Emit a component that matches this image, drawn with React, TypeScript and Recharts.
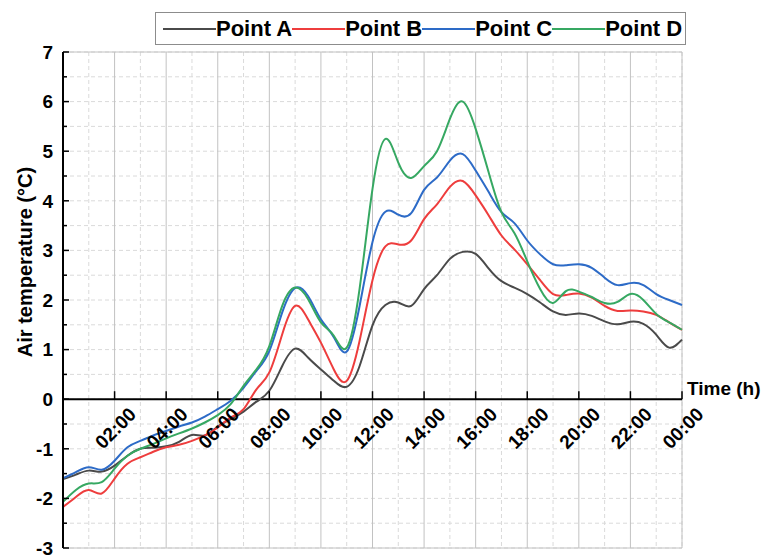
import { CartesianGrid, Legend, Line, LineChart, ReferenceLine, XAxis, YAxis } from "recharts";

// readings every half hour over one day
const HOURS = [
  0, 0.5, 1, 1.5, 2, 2.5, 3, 3.5, 4, 4.5, 5, 5.5, 6, 6.5, 7, 7.5, 8, 8.5, 9, 9.5, 10, 10.5, 11, 11.5, 12,
  12.5, 13, 13.5, 14, 14.5, 15, 15.5, 16, 16.5, 17, 17.5, 18, 18.5, 19, 19.5, 20, 20.5, 21, 21.5, 22, 22.5,
  23, 23.5, 24,
];

const POINT_A = [
  -1.61, -1.52, -1.44, -1.46, -1.34, -1.14, -1.0, -0.98, -0.95, -0.86, -0.72, -0.73, -0.55, -0.4, -0.25,
  -0.05, 0.17, 0.67, 1.02, 0.84, 0.6, 0.37, 0.25, 0.67, 1.49, 1.9, 1.95, 1.88, 2.22, 2.5, 2.83, 2.97, 2.93,
  2.64, 2.38, 2.25, 2.12, 1.95, 1.77, 1.7, 1.73, 1.68, 1.57, 1.51, 1.56, 1.52, 1.3, 1.04, 1.2,
];
const POINT_B = [
  -2.17, -1.97, -1.83, -1.9, -1.6, -1.3, -1.17, -1.06, -0.97, -0.92, -0.84, -0.73, -0.57, -0.37, -0.2, 0.2,
  0.54, 1.31, 1.88, 1.61, 1.14, 0.6, 0.37, 1.18, 2.4, 3.08, 3.12, 3.2, 3.63, 3.93, 4.28, 4.4, 4.11, 3.71,
  3.3, 3.02, 2.72, 2.4, 2.12, 2.1, 2.13, 2.05, 1.88, 1.78, 1.79, 1.77, 1.7, 1.55, 1.4,
];
const POINT_C = [
  -1.59, -1.47, -1.37, -1.42, -1.24, -0.97, -0.84, -0.73, -0.64, -0.55, -0.47, -0.35, -0.2, -0.03, 0.23,
  0.57, 0.97, 1.75, 2.24, 2.08, 1.61, 1.25, 0.96, 1.88, 3.17, 3.78, 3.72, 3.75, 4.22, 4.47, 4.81, 4.94, 4.61,
  4.18, 3.77, 3.55, 3.2, 2.92, 2.72, 2.7, 2.72, 2.65, 2.45, 2.3, 2.34, 2.3, 2.12, 2.0, 1.9,
];
const POINT_D = [
  -2.07, -1.83, -1.7, -1.67, -1.4, -1.14, -1.0, -0.9, -0.79, -0.69, -0.59, -0.47, -0.32, -0.1, 0.27, 0.6,
  1.07, 1.88, 2.25, 2.02, 1.55, 1.28, 1.04, 2.23, 4.24, 5.25, 4.77, 4.46, 4.7, 5.0, 5.65, 6.0, 5.45, 4.58,
  3.77, 3.35, 2.78, 2.22, 1.94, 2.18, 2.17, 2.06, 1.94, 1.96, 2.12, 2.0, 1.72, 1.55, 1.4,
];

const SERIES_NAMES = ["Point A", "Point B", "Point C", "Point D"];
const SERIES_COLORS = ["#4a4a4a", "#ee3d3d", "#2d6bc7", "#36a862"];

const X_TICKS = [2, 4, 6, 8, 10, 12, 14, 16, 18, 20, 22, 24];
const X_LABELS = ["02:00", "04:00", "06:00", "08:00", "10:00", "12:00", "14:00", "16:00", "18:00", "20:00", "22:00", "00:00"];
const X_MINOR = [1, 3, 5, 7, 9, 11, 13, 15, 17, 19, 21, 23];
const Y_MAJOR = [-3, -2, -1, 0, 1, 2, 3, 4, 5, 6, 7];
const Y_ALL = [-3, -2.5, -2, -1.5, -1, -0.5, 0, 0.5, 1, 1.5, 2, 2.5, 3, 3.5, 4, 4.5, 5, 5.5, 6, 6.5, 7];

const data = HOURS.map((h, i) => ({
  h,
  a: POINT_A[i],
  b: POINT_B[i],
  c: POINT_C[i],
  d: POINT_D[i],
}));

const W = 768;
const H = 556;
const LEGEND_H = 33;
const MARGIN = { top: 52 - LEGEND_H, right: 86, bottom: 7, left: 0 };
const PLOT_H = H - 52 - 8;
const Y_MIN = -3;
const Y_MAX = 7;
const FONT = '"Liberation Sans", Arial, sans-serif';

// x labels hang off the zero line, not the bottom of the plot
function XTick(props: any) {
  const { x, y, payload } = props;
  const y0 = y - (PLOT_H * (0 - Y_MIN)) / (Y_MAX - Y_MIN);
  const idx = X_TICKS.indexOf(payload.value);
  const cx = x + 1;
  const cy = y0 + 29;
  return (
    <g>
      <line x1={x} x2={x} y1={y0} y2={y0 - 8} stroke="#000" strokeWidth={1.5} />
      <text
        x={cx}
        y={cy}
        textAnchor="middle"
        dominantBaseline="central"
        transform={`rotate(-45, ${cx}, ${cy})`}
        fontFamily={FONT}
        fontWeight="bold"
        fontSize={19}
        fill="#000"
      >
        {X_LABELS[idx]}
      </text>
    </g>
  );
}

function YTick(props: any) {
  const { x, y, payload } = props;
  const major = Number.isInteger(payload.value);
  const ax = x + 10;
  return (
    <g>
      <line x1={ax} x2={ax + (major ? 6 : 4)} y1={y} y2={y} stroke="#000" strokeWidth={1.5} />
      {major && (
        <text x={x} y={y} dy="0.36em" textAnchor="end" fontFamily={FONT} fontWeight="bold" fontSize={19} fill="#000">
          {payload.value}
        </text>
      )}
    </g>
  );
}

function LegendBox(props: any) {
  const items = (props.payload || []).slice().sort((p: any, q: any) => SERIES_NAMES.indexOf(p.value) - SERIES_NAMES.indexOf(q.value));
  return (
    <div
      style={{
        display: "flex",
        alignItems: "center",
        height: LEGEND_H - 2,
        border: "1px solid #8c8c8c",
        background: "#fff",
        padding: "0 3px 0 7px",
      }}
    >
      {items.map((p: any) => (
        <div key={p.value} style={{ display: "flex", alignItems: "center" }}>
          <span style={{ display: "inline-block", width: 53, borderTop: `2px solid ${p.color}` }} />
          <span style={{ fontFamily: FONT, fontWeight: "bold", fontSize: 22, color: "#000", lineHeight: 1 }}>{p.value}</span>
        </div>
      ))}
    </div>
  );
}

export default function App() {
  return (
    <div style={{ position: "absolute", left: 0, top: 0, background: "#fff" }}>
      <LineChart width={W} height={H} data={data} margin={MARGIN}>
        <XAxis xAxisId="x" dataKey="h" type="number" domain={[0, 24]} ticks={X_TICKS} interval={0}
          height={1} axisLine={false} tickLine={false} tickSize={0} tickMargin={0} tick={<XTick />} />
        <XAxis xAxisId="xm" dataKey="h" type="number" domain={[0, 24]} ticks={X_MINOR} hide />
        <YAxis yAxisId="y" type="number" domain={[Y_MIN, Y_MAX]} ticks={Y_ALL} interval={0} width={63}
          axisLine={{ stroke: "#000", strokeWidth: 2 }} tickLine={false} tickSize={0} tickMargin={10} tick={<YTick />}
          label={{
            value: "Air temperature (°C)",
            angle: -90,
            position: "center",
            dx: -7,
            dy: -38,
            style: { fontFamily: FONT, fontWeight: "bold", fontSize: 20, fill: "#000" },
          }}
        />
        <YAxis yAxisId="ym" type="number" domain={[Y_MIN, Y_MAX]} ticks={Y_MAJOR} hide />
        <CartesianGrid xAxisId="xm" yAxisId="y" stroke="#dadada" strokeDasharray="4 3" />
        <CartesianGrid xAxisId="x" yAxisId="ym" stroke="#c2c2c2" />
        <Legend
          verticalAlign="top"
          align="left"
          content={<LegendBox />}
          wrapperStyle={{ top: 12, left: 155, width: "auto" }}
        />
        <ReferenceLine
          xAxisId="x"
          yAxisId="y"
          y={0}
          stroke="#000"
          strokeWidth={2}
          label={{
            value: "Time (h)",
            position: "right",
            dy: -11,
            style: { fontFamily: FONT, fontWeight: "bold", fontSize: 19, fill: "#000" },
          }}
        />
        {["a", "b", "c", "d"].map((k, i) => (
          <Line
            key={k}
            xAxisId="x"
            yAxisId="y"
            dataKey={k}
            name={SERIES_NAMES[i]}
            stroke={SERIES_COLORS[i]}
            strokeWidth={2}
            type="natural"
            dot={false}
            isAnimationActive={false}
          />
        ))}
      </LineChart>
    </div>
  );
}
